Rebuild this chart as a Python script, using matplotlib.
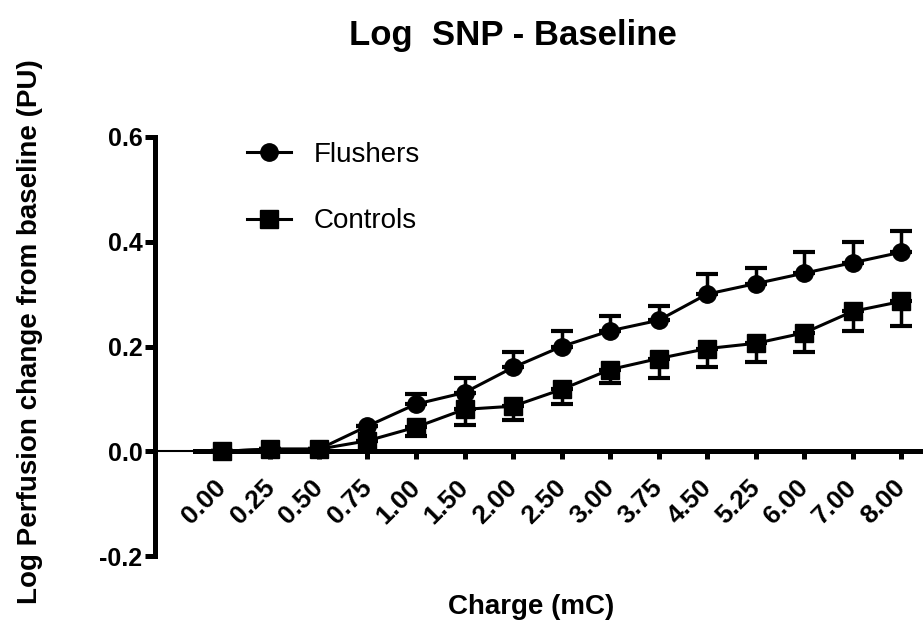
import matplotlib
matplotlib.use("Agg")
import matplotlib.pyplot as plt
import matplotlib.transforms as mtransforms

plt.rcParams['font.family'] = ['Liberation Sans', 'DejaVu Sans']

charge = ["0.00", "0.25", "0.50", "0.75", "1.00", "1.50", "2.00", "2.50",
          "3.00", "3.75", "4.50", "5.25", "6.00", "7.00", "8.00"]
flushers = [0.0, 0.004, 0.004, 0.048, 0.09, 0.112, 0.16, 0.20,
            0.23, 0.25, 0.30, 0.32, 0.34, 0.36, 0.38]
flushers_err = [0.0, 0.0, 0.0, 0.0, 0.02, 0.027, 0.03, 0.029,
                0.029, 0.028, 0.039, 0.03, 0.04, 0.04, 0.04]
controls = [0.0, 0.004, 0.004, 0.02, 0.046, 0.08, 0.086, 0.118,
            0.156, 0.177, 0.196, 0.206, 0.226, 0.267, 0.286]
controls_err = [0.0, 0.0, 0.0, 0.0, 0.017, 0.029, 0.026, 0.028,
                0.026, 0.038, 0.036, 0.036, 0.036, 0.038, 0.046]

x = list(range(len(charge)))
zeros = [0] * len(x)

fig = plt.figure(figsize=(9.23, 6.26), dpi=100)
ax = fig.add_axes([155/923, 1 - 556/626, 1 - 155/923, (556 - 137)/626])

# flushers: upper error bars only, controls: lower only
ax.errorbar(x, flushers, yerr=[zeros, flushers_err], fmt='none', ecolor='black',
            elinewidth=2.5, capsize=8, capthick=3, zorder=2)
ax.errorbar(x, controls, yerr=[controls_err, zeros], fmt='none', ecolor='black',
            elinewidth=2.5, capsize=8, capthick=3, zorder=2)
ax.plot(x, flushers, color='black', marker='o', markersize=12.5, lw=2.2,
        label='Flushers', zorder=3)
ax.plot(x, controls, color='black', marker='s', markersize=12.5, lw=2.2,
        label='Controls', zorder=3)

ax.set_xlim(-1.38, 14.45)
ax.set_ylim(-0.2, 0.6)
ax.axhline(0, color='black', lw=1.5, zorder=1)

for s in ['top', 'right']:
    ax.spines[s].set_visible(False)
ax.spines['bottom'].set_position(('data', 0))
ax.spines['bottom'].set_bounds(-0.56, 14.45)
ax.spines['bottom'].set_linewidth(3.6)
ax.spines['left'].set_linewidth(3.6)

ax.set_yticks([-0.2, 0.0, 0.2, 0.4, 0.6])
ax.set_yticklabels(["-0.2", "0.0", "0.2", "0.4", "0.6"], fontsize=18, fontweight='bold')
ax.set_xticks(x)
ax.set_xticklabels(charge, rotation=45, ha='right', fontsize=19, fontweight='bold')
ax.tick_params(axis='y', direction='out', length=7, width=3.6, pad=2)
ax.tick_params(axis='x', direction='out', length=6, width=3.6, pad=11)
shift = mtransforms.ScaledTranslation(9/100, 0, fig.dpi_scale_trans)
for lbl in ax.get_xticklabels():
    lbl.set_transform(lbl.get_transform() + shift)

ax.legend(loc='upper left', bbox_to_anchor=(222/923, 1 - 117/626),
          bbox_transform=fig.transFigure, frameon=False, fontsize=20,
          handlelength=1.6, handletextpad=0.8, labelspacing=1.45)

fig.text(513/923, 1 - 36/626, "Log  SNP - Baseline", ha='center', va='center',
         fontsize=25, fontweight='bold')
fig.text(531/923, 1 - 607/626, "Charge (mC)", ha='center', va='center',
         fontsize=20, fontweight='bold')
fig.text(30/923, 1 - 332/626, "Log Perfusion change from baseline (PU)",
         ha='center', va='center', rotation=90, fontsize=20, fontweight='bold')

fig.savefig('out.png', dpi=100)
